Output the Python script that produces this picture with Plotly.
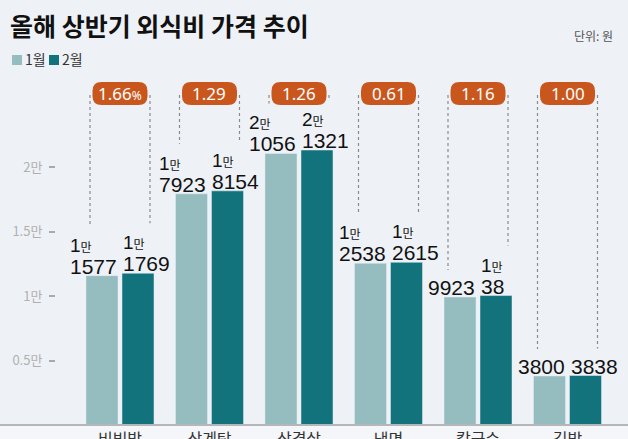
import plotly.graph_objects as go

categories = ["비빔밥", "삼계탕", "삼겹살", "냉면", "칼국수", "김밥"]
jan = [11577, 17923, 21056, 12538, 9923, 3800]
feb = [11769, 18154, 21321, 12615, 10038, 3838]
change = ["1.66", "1.29", "1.26", "0.61", "1.16", "1.00"]
ytick_vals = [5000, 10000, 15000, 20000]
ytick_text = ["0.5만", "1만", "1.5만", "2만"]

W, H = 628, 439
ML, MR, MT, MB = 56, 0, 80, 14
PW, PH = W - ML - MR, H - MT - MB
YMAX = 26750
XMIN, XMAX = -0.715, 5.676
PXU = PH / YMAX            # pixels per data unit (y)
PXC = PW / (XMAX - XMIN)   # pixels per category (x)

OFF = 18 / PXC
BW = 32 / PXC
C1, C2 = "#95bcbe", "#13737c"
ORANGE = "#c9571d"
BG = "#eef2f7"
NUMFONT = "Liberation Sans, Arial, Noto Sans CJK KR"
KFONT = "Noto Sans CJK KR"


def py2data(py):
    return (MT + PH - py) / PXU


def px2paper(px):
    return (px - ML) / PW


def py2paper(py):
    return (MT + PH - py) / PH


xs = list(range(len(categories)))
fig = go.Figure()
fig.add_bar(x=[i - OFF for i in xs], y=jan, width=BW, marker_color=C1, name="1월", showlegend=False)
fig.add_bar(x=[i + OFF for i in xs], y=feb, width=BW, marker_color=C2, name="2월", showlegend=False)

annotations = []
shapes = []


def label_text(v):
    if v >= 10000:
        man, rest = divmod(v, 10000)
        return (f"<span style='font-size:19px'>{man}</span><span style='font-size:12px;font-family:Noto Sans CJK KR'>만</span>"
                f"<br><span style='font-size:21px'>{rest}</span>"), True
    return f"<span style='font-size:21px'>{v}</span>", False


y_badge = py2data(93.5)
y_dot_top = py2data(95)
for i in xs:
    for v, side in ((jan[i], -1), (feb[i], 1)):
        txt, two = label_text(v)
        annotations.append(dict(
            x=i + side * (OFF - BW / 2), y=v, xref="x", yref="y", text=txt, showarrow=False,
            xanchor="right" if side < 0 else "left", yanchor="bottom", align="left",
            font=dict(family=NUMFONT, size=17, color="#111"), yshift=-3, borderpad=0))
        yend = v + (50 if two else 27) / PXU
        xl = i + side * 30 / PXC
        shapes.append(dict(type="line", xref="x", yref="y", x0=xl, x1=xl, y0=y_dot_top, y1=yend,
                           line=dict(color="#8a8a8a", width=1.2, dash="dot")))
    # badge
    hw, hh, r = 27.5, 11.5, 9
    path = (f"M {-hw + r},{-hh} L {hw - r},{-hh} Q {hw},{-hh} {hw},{-hh + r} L {hw},{hh - r} "
            f"Q {hw},{hh} {hw - r},{hh} L {-hw + r},{hh} Q {-hw},{hh} {-hw},{hh - r} "
            f"L {-hw},{-hh + r} Q {-hw},{-hh} {-hw + r},{-hh} Z")
    shapes.append(dict(type="path", xref="x", yref="y", xsizemode="pixel", ysizemode="pixel",
                       xanchor=i, yanchor=y_badge, path=path, fillcolor=ORANGE, line=dict(width=0)))
    btxt = change[i] + ("<span style='font-size:12px'>%</span>" if i == 0 else "")
    annotations.append(dict(x=i, y=y_badge, xref="x", yref="y", text=btxt, showarrow=False,
                            font=dict(family="Noto Sans, Open Sans", size=17, color="white"),
                            xanchor="center", yanchor="middle", borderpad=0))

# bottom area and baseline
shapes.append(dict(type="rect", xref="paper", yref="paper", x0=px2paper(0), x1=1, y0=py2paper(439), y1=0,
                   fillcolor="#f4f6f9", line=dict(width=0), layer="below"))
shapes.append(dict(type="line", xref="paper", yref="paper", x0=px2paper(0), x1=1, y0=0, y1=0,
                   line=dict(color="#b4b7ba", width=2)))

# legend (manual)
for (x0, col, name) in ((12, C1, "1월"), (49, C2, "2월")):
    shapes.append(dict(type="rect", xref="paper", yref="paper", x0=px2paper(x0), x1=px2paper(x0 + 10),
                       y0=py2paper(65), y1=py2paper(55), fillcolor=col, line=dict(width=0)))
    annotations.append(dict(x=px2paper(x0 + 12), y=py2paper(59), xref="paper", yref="paper", text=name,
                            showarrow=False, xanchor="left", yanchor="middle",
                            font=dict(family=KFONT, size=14, color="#333"), borderpad=0))

annotations.append(dict(x=px2paper(615), y=py2paper(36), xref="paper", yref="paper", text="단위: 원",
                        showarrow=False, xanchor="right", yanchor="middle",
                        font=dict(family=KFONT, size=12, color="#555")))

fig.update_layout(
    width=W, height=H, margin=dict(l=ML, r=MR, t=MT, b=MB),
    paper_bgcolor=BG, plot_bgcolor=BG, barmode="overlay",
    title=dict(text="<b>올해 상반기 외식비 가격 추이</b>", x=10 / W, xanchor="left", xref="container",
               y=1 - 27 / H, yanchor="middle", yref="container",
               font=dict(family=KFONT, size=25, color="#111")),
    xaxis=dict(range=[XMIN, XMAX], tickmode="array", tickvals=xs, ticktext=categories,
               showgrid=False, zeroline=False, showline=False, ticks="", automargin=False,
               ticklabelstandoff=3,
               tickfont=dict(family=KFONT, size=16, color="#333")),
    yaxis=dict(range=[0, YMAX], tickmode="array", tickvals=ytick_vals, ticktext=ytick_text,
               showgrid=False, zeroline=False, showline=False, ticks="outside", ticklen=6,
               tickwidth=1.5, tickcolor="#aaaaaa", ticklabelstandoff=4, automargin=False,
               tickfont=dict(family=KFONT, size=13, color="#b0b0b0")),
    annotations=annotations, shapes=shapes,
)

fig.write_html("out.html")
